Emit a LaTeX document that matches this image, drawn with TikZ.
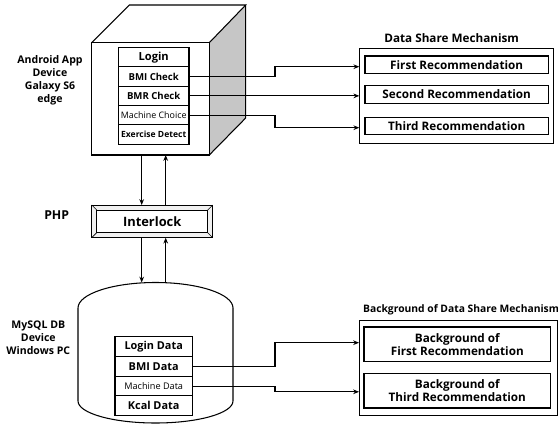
\documentclass[tikz,border=0pt]{standalone}
\usepackage{fontspec}
\setmainfont{Open Sans}
\usetikzlibrary{positioning,calc,arrows.meta}

\begin{document}
\begin{tikzpicture}[
		x=0.03cm, y=-0.03cm,
		every node/.style={font=\bfseries},
		label/.style={align=center, font=\bfseries\fontsize{9}{11}\selectfont},
		row/.style={draw, line width=1pt, inner sep=0pt, outer sep=0pt, minimum width=2.12cm, minimum height=0.58cm, font=\bfseries\fontsize{8.2}{9}\selectfont},
		dbrow/.style={row, minimum width=2.32cm, minimum height=0.59cm, font=\bfseries\fontsize{9.3}{10}\selectfont},
		rec/.style={draw, line width=1pt, inner sep=0pt, outer sep=0pt, minimum width=5.5cm, minimum height=0.525cm, font=\bfseries\fontsize{10}{11}\selectfont},
		bgrec/.style={rec, align=center, minimum width=5.6cm, minimum height=1.035cm, font=\bfseries\fontsize{10}{11}\selectfont},
		frame/.style={draw, line width=0.8pt, inner sep=0pt, outer sep=0pt},
		flow/.style={-{Stealth[length=5pt,width=4pt]}, line width=0.9pt}
	]
	\useasboundingbox (0,0) rectangle (558,425);

	% the device as a box
	\fill[gray!45] (209.3,42.7) -- (245.7,5) -- (245.7,118) -- (209.3,155) -- cycle;
	\draw[line width=0.9pt] (91.7,42.7) -- (129.3,5) -- (245.7,5) -- (209.3,42.7);
	\draw[line width=0.9pt] (245.7,5) -- (245.7,118) -- (209.3,155);
	\node (device) [frame, line width=0.9pt, minimum width=3.53cm, minimum height=3.37cm] at (150.5,98.85) {};

	\node (login) [row, font=\bfseries\fontsize{9.5}{10}\selectfont] at (153.7,57.2) {Login};
	\node (bmichk) [row, below=0pt of login] {BMI Check};
	\node (bmrchk) [row, below=0pt of bmichk] {BMR Check};
	\node (machine) [row, below=0pt of bmrchk, font=\mdseries\fontsize{7.6}{9}\selectfont] {Machine Choice};
	\node (exercise) [row, below=0pt of machine, font=\bfseries\fontsize{7.3}{9}\selectfont] {Exercise Detect};

	\node (android) [label] at (50,80) {Android App\\Device\\Galaxy S6\\edge};

	% recommendations
	\node (share) [frame, minimum width=5.82cm, minimum height=2.85cm] at (456.3,95.8) {};
	\node [font=\bfseries\fontsize{10}{11}\selectfont] at (451.7,38.3) {Data Share Mechanism};
	\node (first) [rec] at (456.7,64.7) {First Recommendation};
	\node (second) [rec] at (456.7,94.5) {Second Recommendation};
	\node (third) [rec] at (456.7,126) {Third Recommendation};

	\coordinate (turn) at (275,0);
	\draw[flow] (bmichk.east) -- (bmichk.east -| turn) |- ($(first -| share.west)+(0,2)$);
	\draw[flow] (bmrchk.east) -- (bmrchk.east -| share.west);
	\draw[flow] (machine.east) -- (machine.east -| turn) |- ($(third -| share.west)+(0,1.7)$);

	% php layer
	\node (php) [label, font=\bfseries\fontsize{10.5}{12}\selectfont] at (56.7,215) {PHP};
	\node (interlock) [frame, fill=gray!12, minimum width=3.63cm, minimum height=0.98cm] at (152.2,221.35) {};
	\draw[line width=0.6pt, fill=white] ($(interlock.north west)+(5,5)$) rectangle ($(interlock.south east)+(-5,-5)$);
	\foreach \c/\dx/\dy in {north west/5/5, north east/-5/5, south west/5/-5, south east/-5/-5}
		\draw[line width=0.5pt] (interlock.\c) -- ++(\dx,\dy);
	\node [font=\bfseries\fontsize{11}{12}\selectfont] at (interlock) {Interlock};

	\coordinate (dn) at (141.7,0);
	\coordinate (up) at (165.7,0);
	\draw[flow] (device.south -| dn) -- (interlock.north -| dn);
	\draw[flow] (interlock.north -| up) -- (device.south -| up);

	% database
	\draw[line width=0.9pt] (78,308) arc[start angle=180, end angle=0, x radius=2.325cm, y radius=0.765cm]
		-- (233,401) arc[start angle=0, end angle=-180, x radius=2.325cm, y radius=0.66cm] -- cycle;
	\coordinate (dbtop) at (155.5,282.5);
	\draw[flow] (interlock.south -| dn) -- (dbtop -| dn);
	\draw[flow] (dbtop -| up) -- (interlock.south -| up);

	\node (mysql) [label] at (38.3,337.5) {MySQL DB\\Device\\Windows PC};

	\node (logindata) [dbrow] at (153.7,346.7) {Login Data};
	\node (bmidata) [dbrow, below=0pt of logindata] {BMI Data};
	\node (machdata) [dbrow, below=0pt of bmidata, font=\mdseries\fontsize{7.8}{9}\selectfont] {Machine Data};
	\node (kcaldata) [dbrow, below=0pt of machdata] {Kcal Data};

	% background recommendations
	\node (bg) [frame, minimum width=5.95cm, minimum height=2.83cm] at (458.2,367.9) {};
	\node [anchor=west, font=\bfseries\fontsize{8.8}{10}\selectfont] at (359,309.3) {Background of Data Share Mechanism};
	\node (bgfirst) [bgrec] at (457.3,344.2) {Background of\\First Recommendation};
	\node (bgthird) [bgrec] at (457.3,390.8) {Background of\\Third Recommendation};

	\draw[flow] (bmidata.east) -- (bmidata.east -| turn) |- ($(bgfirst -| bg.west)+(0,-1.5)$);
	\draw[flow] (machdata.east) -- (machdata.east -| turn) |- ($(bgthird -| bg.west)+(0,1)$);
\end{tikzpicture}
\end{document}
